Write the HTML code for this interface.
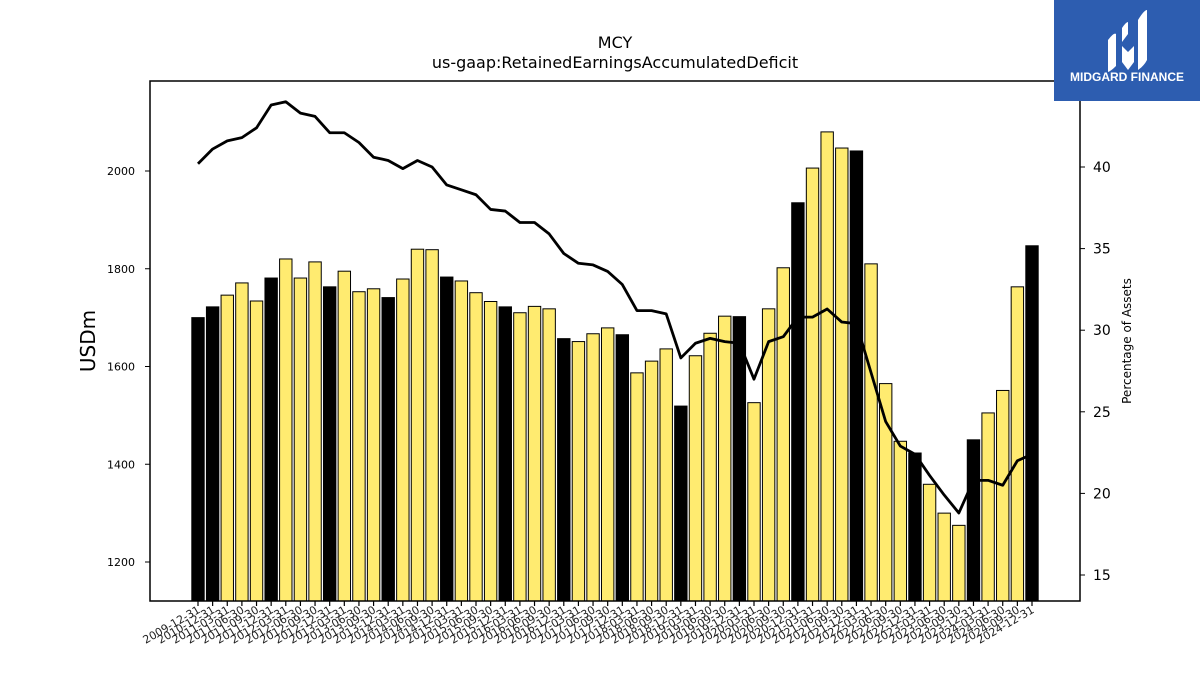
<!DOCTYPE html>
<html><head><meta charset="utf-8"><style>
body{margin:0;background:#fff;font-family:"Liberation Sans","DejaVu Sans",sans-serif;}
</style></head><body>
<svg id="chart" width="1200" height="675" xmlns="http://www.w3.org/2000/svg" font-family="DejaVu Sans, Liberation Sans, sans-serif">
<rect width="1200" height="675" fill="#fff"/>
<text x="615" y="48" font-size="16" text-anchor="middle">MCY</text>
<text x="615" y="68" font-size="16" text-anchor="middle">us-gaap:RetainedEarningsAccumulatedDeficit</text>
<g id="bars"></g>
<g id="line"></g>
<rect x="150" y="81" width="930" height="520" fill="none" stroke="#000" stroke-width="1.5"/>
<g id="axes"></g>
<text transform="translate(95,341) rotate(-90)" font-size="20" text-anchor="middle">USDm</text>
<text transform="translate(1131,341) rotate(-90)" font-size="12" text-anchor="middle">Percentage of Assets</text>
<g>
<rect x="1054" y="0" width="146" height="101" fill="#2d5db0"/>
<path d="M1108 40 q6-8 8-6 v32 q-5 5-8 6z M1122 28 q4-6 6-6 v12 l-6 8z M1122 46 l6 6 l6-6 v16 l-6 8 l-6-8z M1138 20 q6-10 9-10 v50 q-3 6-9 10z" fill="#fff"/>
<text x="1127" y="81" font-size="12" font-weight="bold" fill="#fff" text-anchor="middle" font-family="Liberation Sans, sans-serif">MIDGARD FINANCE</text>
</g>
</svg>
<script>
const categories=["2009-12-31","2010-12-31"];
for(let y=2011;y<=2024;y++){["03-31","06-30","09-30","12-31"].forEach(q=>categories.push(y+"-"+q));}
const usdValues=[1700,1722,1746,1771,1734,1781,1820,1781,1814,1763,1795,1753,1759,1741,1779,1840,1839,1783,1775,1751,1733,1722,1710,1723,1718,1657,1651,1667,1679,1665,1587,1611,1636,1519,1622,1668,1703,1702,1526,1718,1802,1935,2006,2080,2047,2041,1810,1565,1447,1423,1359,1300,1275,1450,1505,1551,1763,1847];
const pctValues=[40.2,41.1,41.6,41.8,42.4,43.8,44.0,43.3,43.1,42.1,42.1,41.5,40.6,40.4,39.9,40.4,40.0,38.9,38.6,38.3,37.4,37.3,36.6,36.6,35.9,34.7,34.1,34.0,33.6,32.8,31.2,31.2,31.0,28.3,29.2,29.5,29.3,29.2,27.0,29.3,29.6,30.8,30.8,31.3,30.5,30.4,27.4,24.4,22.9,22.4,21.1,19.9,18.8,20.8,20.8,20.5,22.0,22.4];
const leftTicks=[1200,1400,1600,1800,2000];
const rightTicks=[15,20,25,30,35,40];
const NS="http://www.w3.org/2000/svg";
const yL=v=>562-(v-1200)*(391/800);
const yR=v=>167-(v-40)*(408/25);
const xC=i=>198+i*((1032-198)/(categories.length-1));
const bars=document.getElementById('bars'),axes=document.getElementById('axes'),lineG=document.getElementById('line');
function mk(t,a,p){const e=document.createElementNS(NS,t);for(const k in a)e.setAttribute(k,a[k]);p.appendChild(e);return e;}
usdValues.forEach((v,i)=>{
  const dec=categories[i].endsWith("12-31");
  const r=mk('rect',{x:xC(i)-6.2,y:yL(v),width:12.4,height:601-yL(v),fill:dec?'#000':'#ffeb70',stroke:'#000','stroke-width':1},bars);
  
  
  const t=mk('line',{x1:xC(i),x2:xC(i),y1:601,y2:606,stroke:'#000','stroke-width':1.2},axes);
  
  
  const lb=mk('text',{transform:`translate(${xC(i)+3},${612}) rotate(-30)`,'font-size':11,'text-anchor':'end',fill:'#222'},axes);
  lb.textContent=categories[i];
  
  
});
const pl=mk('polyline',{points:pctValues.map((v,i)=>xC(i)+','+yR(v)).join(' '),fill:'none',stroke:'#000','stroke-width':2.8,'stroke-linejoin':'round'},lineG);


leftTicks.forEach(v=>{
  const t=mk('line',{x1:145,x2:150,y1:yL(v),y2:yL(v),stroke:'#000'},axes);
  
  
  const l=mk('text',{x:135,y:yL(v)+4,'font-size':11,'text-anchor':'end'},axes);
  l.textContent=v;
  
  
});
rightTicks.forEach(v=>{
  const t=mk('line',{x1:1080,x2:1085,y1:yR(v),y2:yR(v),stroke:'#000'},axes);
  
  
  const l=mk('text',{x:1093,y:yR(v)+5,'font-size':14},axes);
  l.textContent=v;
  
  
});
</script>
</body></html>
